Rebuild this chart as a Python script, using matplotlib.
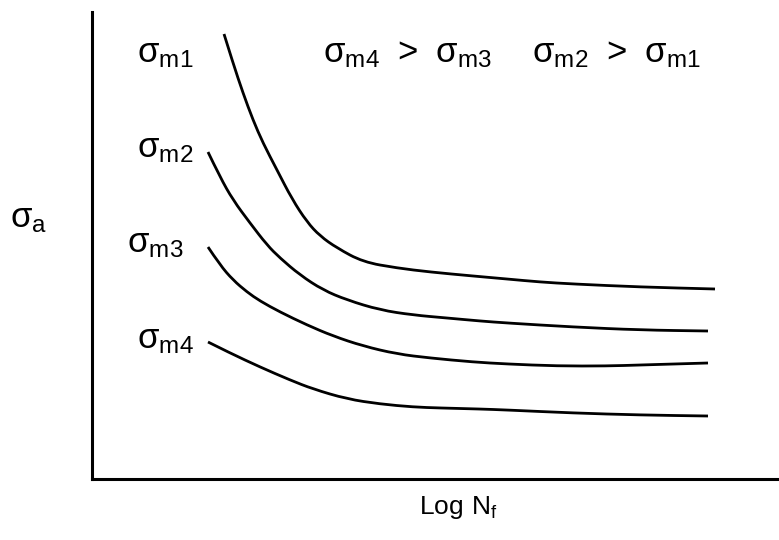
import numpy as np
import matplotlib.pyplot as plt
from matplotlib.path import Path
from matplotlib.patches import PathPatch

plt.rcParams['font.family'] = ['Liberation Sans', 'DejaVu Sans']
plt.rcParams['mathtext.fontset'] = 'custom'
plt.rcParams['mathtext.rm'] = 'Liberation Sans'

# schematic S-N curves (x ~ log Nf, y ~ sigma_a, arbitrary units)
x_m1 = [132, 141, 151, 161, 171, 185, 200, 215, 228, 245, 271, 305, 338, 381, 415, 448, 481, 548, 623]
y_m1 = [445, 416, 386, 359, 336, 309, 280, 257, 243, 231, 217, 211, 207, 203, 200, 197, 195, 192, 190]

x_m2 = [116, 128, 141, 158, 175, 188, 208, 231, 255, 288, 321, 355, 388, 415, 481, 548, 616]
y_m2 = [327, 302, 279, 256, 234, 221, 204, 189, 179, 169, 164, 161, 158, 156, 152, 149, 148]

x_m3 = [116, 128, 141, 155, 168, 188, 215, 241, 271, 305, 338, 381, 415, 465, 515, 548, 616]
y_m3 = [232, 214, 199, 187, 178, 167, 154, 143, 133, 125, 121, 117, 115, 113, 113, 114, 116]

x_m4 = [116, 138, 168, 198, 221, 255, 288, 321, 348, 388, 415, 481, 548, 616]
y_m4 = [137, 126, 112, 99, 90, 80, 75, 72, 71, 70, 69, 66, 64, 63]


def smooth_path(xs, ys):
    # quadratic bezier through midpoints, using the read points as control points
    pts = list(zip(xs, ys))
    verts = [pts[0]]
    codes = [Path.MOVETO]
    for i in range(1, len(pts) - 1):
        mid = ((pts[i][0] + pts[i + 1][0]) / 2, (pts[i][1] + pts[i + 1][1]) / 2)
        verts += [pts[i], mid]
        codes += [Path.CURVE3, Path.CURVE3]
    verts.append(pts[-1])
    codes.append(Path.LINETO)
    return Path(verts, codes)


W, H = 779, 540
fig = plt.figure(figsize=(W / 100, H / 100), dpi=100)
ax = fig.add_axes([92 / W, 61 / H, 687 / W, 467 / H])

for xs, ys in [(x_m1, y_m1), (x_m2, y_m2), (x_m3, y_m3), (x_m4, y_m4)]:
    ax.add_patch(PathPatch(smooth_path(xs, ys), fill=False, edgecolor='black',
                           lw=2.0, capstyle='butt', joinstyle='round'))

ax.set_xlim(0, 687)
ax.set_ylim(0, 467)
ax.set_xticks([])
ax.set_yticks([])
for s in ['top', 'right']:
    ax.spines[s].set_visible(False)
for s in ['left', 'bottom']:
    ax.spines[s].set_linewidth(2.2)

def label(px, py, s, size=25):
    fig.text(px / W, 1 - py / H, s, fontsize=size, ha='left', va='baseline')

# curve labels
label(137, 62, r'$\mathregular{σ_{m1}}$')
label(137, 157, r'$\mathregular{σ_{m2}}$')
label(127, 252, r'$\mathregular{σ_{m3}}$')
label(137, 348, r'$\mathregular{σ_{m4}}$')
label(323, 62, r'$\mathregular{σ_{m4}\ >\ σ_{m3}}$')
label(532, 62, r'$\mathregular{σ_{m2}\ >\ σ_{m1}}$')
label(10, 227, r'$\mathregular{σ_a}$')
label(419, 514, r'$\mathregular{Log\ N_f}$', size=19)

fig.savefig('out.png', dpi=100, facecolor='white')
